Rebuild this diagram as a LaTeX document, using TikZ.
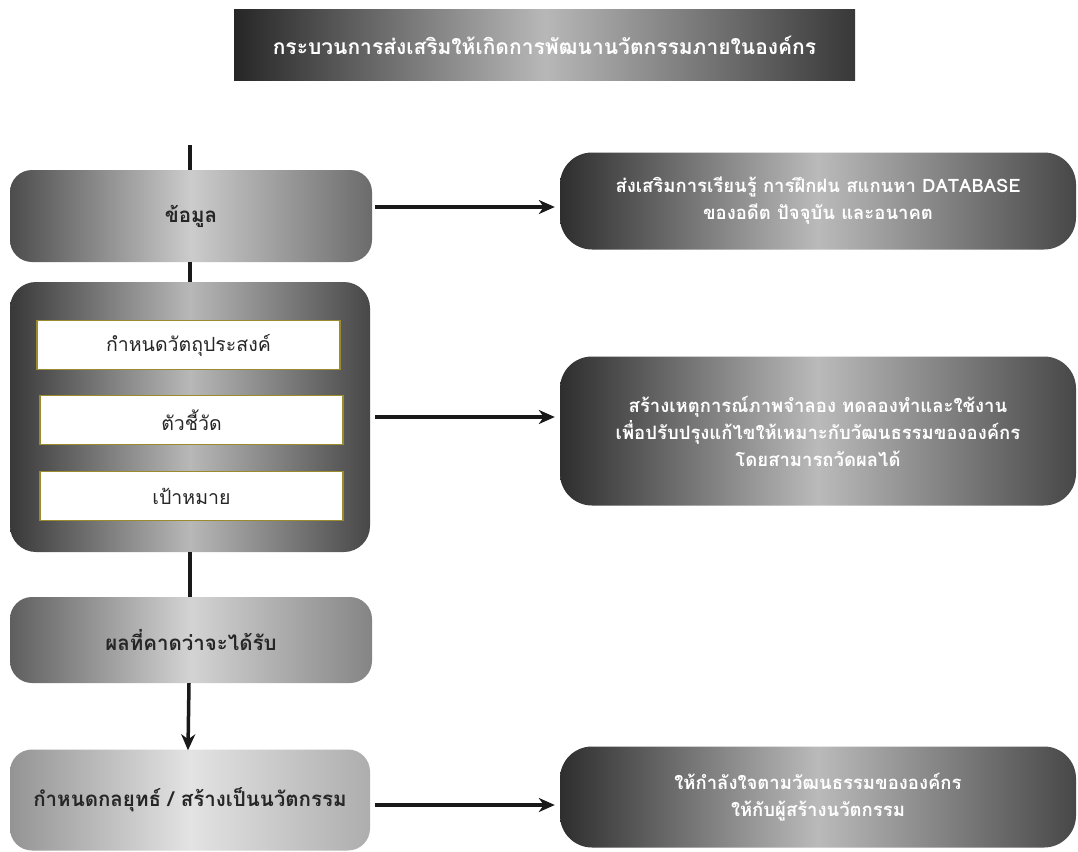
\documentclass[tikz,border=0pt]{standalone}
\usepackage{fontspec}
\setmainfont{Liberation Sans}
\newfontfamily\thai[Script=Thai]{Loma}
\usetikzlibrary{arrows.meta}
\definecolor{innerline}{HTML}{9A8A30}
\tikzset{
  base/.style={rounded corners=22pt, inner sep=0pt, align=center, font=\thai\bfseries\fontsize{20.5}{26}\selectfont},
  titlebox/.style={inner sep=0pt, align=center, left color=black!85, right color=black!78, middle color=black!28, text=white, font=\thai\bfseries\fontsize{21}{24}\selectfont},
  graybox/.style={base, left color=black!70, right color=black!58, middle color=black!20, text=black!85},
  bigbox/.style={rounded corners=26pt, inner sep=0pt, left color=black!78, right color=black!72, middle color=black!28},
  lightbox/.style={base, left color=black!63, right color=black!48, middle color=black!17, text=black!85},
  palebox/.style={base, left color=black!42, right color=black!32, middle color=black!11, text=black!85},
  darkbox/.style={rounded corners=32pt, inner sep=0pt, align=center, left color=black!82, right color=black!72, middle color=black!27, text=white, font=\thai\bfseries\fontsize{18.5}{27}\selectfont},
  innerbox/.style={draw=innerline, line width=1.6pt, fill=white, inner sep=0pt, minimum width=303pt, minimum height=49pt, font=\thai\fontsize{19.5}{22}\selectfont, text=black!85},
  conn/.style={line width=3.5pt, black!90},
  arr/.style={conn, -{Stealth[length=16pt, width=14pt, inset=5pt]}}
}
\begin{document}
\begin{tikzpicture}[x=1pt, y=-1pt]
\useasboundingbox (0,0) rectangle (1078,851);
\fill[white] (0,0) rectangle (1078,851);
% title
\node[titlebox, minimum width=621pt, minimum height=70pt] (title) at (544.5,45) {กระบวนการส่งเสริมให้เกิดการพัฒนานวัตกรรมภายในองค์กร};
% left column
\coordinate (top) at (190,145);
\node[graybox, minimum width=362pt, minimum height=92pt] (info) at (191,216) {ข้อมูล};
\node[bigbox, minimum width=360pt, minimum height=270pt] (big) at (190,417) {};
\node[innerbox] (obj) at (188.5,345) {กำหนดวัตถุประสงค์};
\node[innerbox] (ind) at (191.5,420) {ตัวชี้วัด};
\node[innerbox] (goal) at (191.5,496) {เป้าหมาย};
\node[lightbox, minimum width=362pt, minimum height=86pt] (res) at (191,640) {ผลที่คาดว่าจะได้รับ};
\node[palebox, minimum width=360pt, minimum height=101pt] (strat) at (190,800) {กำหนดกลยุทธ์ / สร้างเป็นนวัตกรรม};
% right column
\node[darkbox, minimum width=516pt, minimum height=97pt] (r1) at (818,201) {ส่งเสริมการเรียนรู้ การฝึกฝน สแกนหา DATABASE\\ของอดีต ปัจจุบัน และอนาคต};
\node[darkbox, minimum width=516pt, minimum height=149pt] (r2) at (818,431) {สร้างเหตุการณ์ภาพจำลอง ทดลองทำและใช้งาน\\เพื่อปรับปรุงแก้ไขให้เหมาะกับวัฒนธรรมขององค์กร\\โดยสามารถวัดผลได้};
\node[darkbox, minimum width=516pt, minimum height=101pt] (r3) at (818,797) {ให้กำลังใจตามวัฒนธรรมขององค์กร\\ให้กับผู้สร้างนวัตกรรม};
% connectors
\draw[conn] (top) -- (info.north -| top);
\draw[conn] (info.south -| top) -- (big.north -| top);
\draw[conn] (big.south -| top) -- (res.north -| top);
\draw[arr, shorten >=-1pt] ([xshift=-2pt]res.south) -- ([xshift=-2pt]strat.north);
\draw[arr, shorten <=3pt, shorten >=5pt] ([yshift=9pt]info.east) -- ([yshift=9pt]info.east -| r1.west);
\draw[arr, shorten <=5pt, shorten >=5pt] (big.east) -- (big.east -| r2.west);
\draw[arr, shorten <=5pt, shorten >=5pt] ([yshift=-5pt]strat.east) -- ([yshift=-5pt]strat.east -| r3.west);
\end{tikzpicture}
\end{document}
